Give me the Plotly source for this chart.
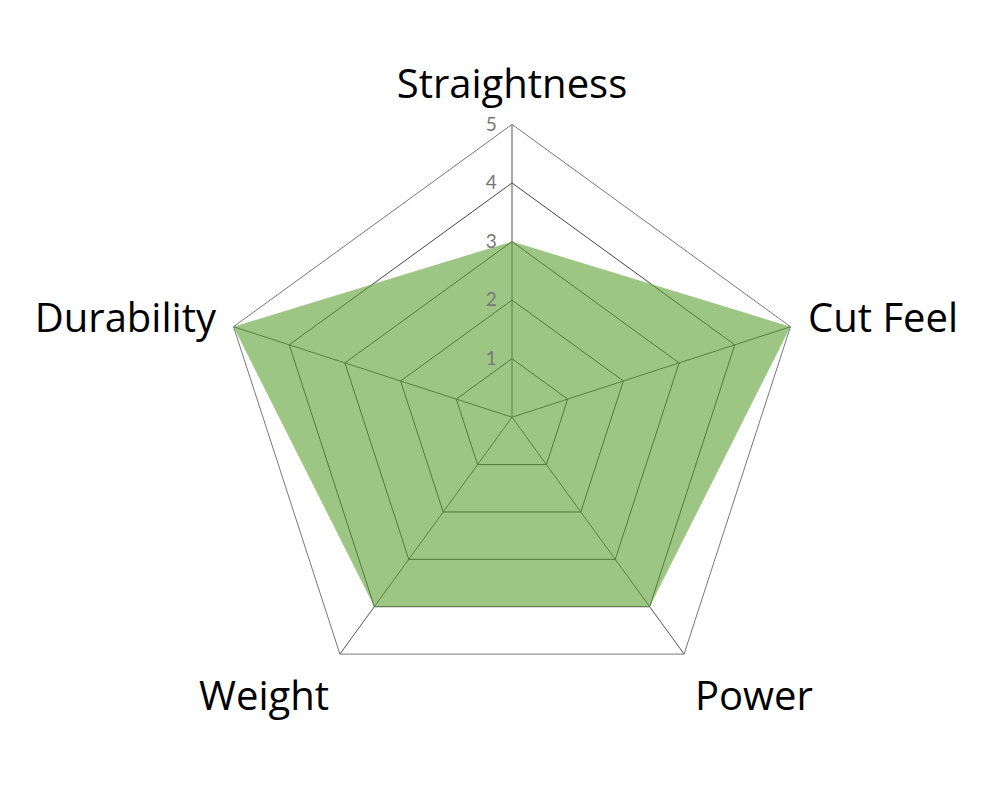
import plotly.graph_objects as go

categories = ['Straightness', 'Cut Feel', 'Power', 'Weight', 'Durability']
scores = [3, 5, 4, 4, 5]
radial_ticks = [1, 2, 3, 4, 5]

# close the polygon
theta = categories + categories[:1]
r = scores + scores[:1]

fig = go.Figure()
fig.add_trace(go.Scatterpolar(
    r=r, theta=theta,
    fill='toself',
    fillcolor='rgba(92,160,52,0.6)',   # ~#9dc685 on white, grid shows through
    line=dict(color='rgba(0,0,0,0)', width=0),
    mode='lines',
    hoverinfo='skip',
))

fig.update_layout(
    width=1000, height=800,
    paper_bgcolor='white',
    showlegend=False,
    margin=dict(l=0, r=0, t=0, b=0),
    font=dict(family='Open Sans', color='black'),
    polar=dict(
        domain=dict(x=[0.211, 0.797], y=[0.1225, 0.8545]),
        bgcolor='white',
        gridshape='linear',
        radialaxis=dict(
            range=[0, 5],
            tickvals=radial_ticks,
            ticktext=[str(t) for t in radial_ticks],
            angle=90,
            tickangle=90,
            side='counterclockwise',
            showline=False,
            ticks='outside',
            ticklen=8,
            tickcolor='rgba(0,0,0,0)',
            layer='above traces',
            gridcolor='#444444',
            gridwidth=1,
            tickfont=dict(family='Lato', size=19, color='#777777'),
        ),
        angularaxis=dict(
            direction='clockwise',
            rotation=90,
            categoryarray=categories,
            categoryorder='array',
            showline=True,
            linecolor='#777777',
            linewidth=1,
            layer='above traces',
            gridcolor='#555555',
            gridwidth=1,
            ticks='outside',
            ticklen=10,
            tickcolor='rgba(0,0,0,0)',
            tickfont=dict(size=40, color='black'),
        ),
    ),
)

fig.write_html("out.html")
